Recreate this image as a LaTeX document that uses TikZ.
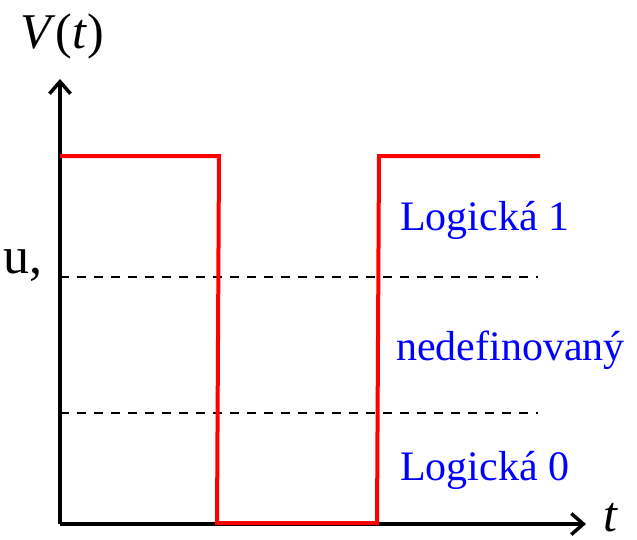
\documentclass[tikz,border=0pt]{standalone}
\usepackage{fontspec}
\setmainfont{Liberation Serif}
\usetikzlibrary{positioning,arrows.meta}
\definecolor{sig}{RGB}{255,0,0}
\definecolor{lvl}{RGB}{0,0,255}

\begin{document}
\begin{tikzpicture}[
  x=1pt, y=-1pt,
  axis/.style={line width=3.5pt, black, -{Straight Barb[length=12pt, width=21pt, line width=3.5pt]}},
  thr/.style={line width=2.5pt, black, dash pattern=on 9pt off 8pt},
  wave/.style={line width=4pt, sig, line join=miter},
  lvltext/.style={anchor=west, text=lvl, font=\fontsize{42}{48}\selectfont, inner sep=0pt},
  axtext/.style={anchor=base, font=\fontsize{50}{56}\selectfont, inner sep=0pt},
]
\useasboundingbox (0,0) rectangle (637,539);

% ---- axes ----
\coordinate (O) at (60,524);
\coordinate (Ytop) at (60,79);
\coordinate (Xend) at (586,524);
\draw[axis] (O) -- (Ytop);
\draw[axis] (O) -- (Xend);
\node[axtext] (VT) at (62,48) {\textit{V}(\textit{t})};
\node[axtext] (T) at (611,531) {\textit{t}};
\node[axtext, font=\fontsize{52}{58}\selectfont] (U) at (23,273) {u,};

% ---- thresholds ----
\coordinate (H1) at (60,277);
\coordinate (H1e) at (538,277);
\coordinate (L1) at (60,413);
\coordinate (L1e) at (538,413);
\draw[thr] (H1) -- (H1e);
\draw[thr] (L1) -- (L1e);

% ---- signal ----
\coordinate (S0) at (60,156);
\coordinate (F1) at (219,156);
\coordinate (F2) at (217,523);
\coordinate (R1) at (377,523);
\coordinate (R2) at (379,156);
\coordinate (S1) at (540,156);
\draw[wave] (S0) -- (F1) -- (F2) -- (R1) -- (R2) -- (S1);

% ---- levels ----
\node[lvltext] (LOG1) at (400,220) {Logická 1};
\node[lvltext] (UND) at (396,350) {nedefinovaný};
\node[lvltext] (LOG0) at (400,470) {Logická 0};

\end{tikzpicture}
\end{document}
